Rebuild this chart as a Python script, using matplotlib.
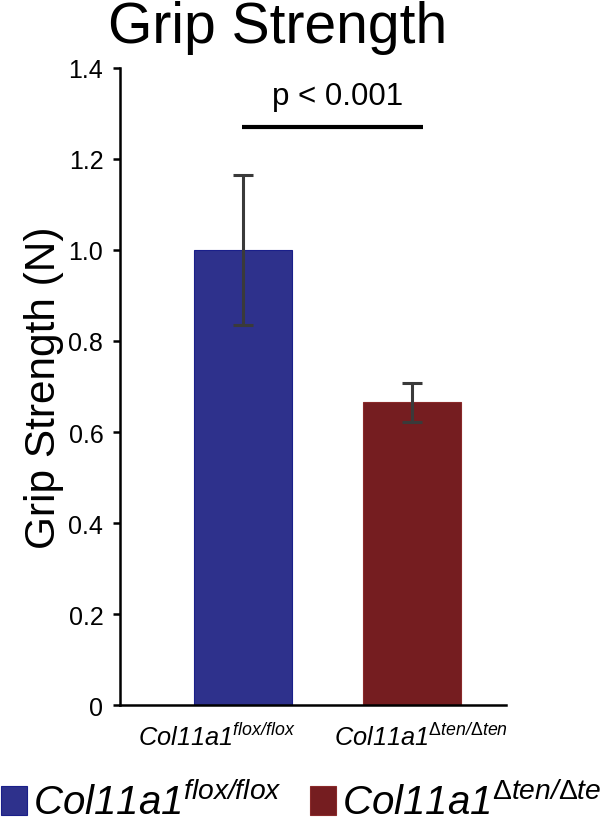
import matplotlib
matplotlib.use("Agg")
import matplotlib.pyplot as plt
from matplotlib.patches import Patch

plt.rcParams['font.family'] = ['Liberation Sans', 'DejaVu Sans']
plt.rcParams['mathtext.fontset'] = 'custom'
plt.rcParams['mathtext.it'] = 'Liberation Sans:italic'
plt.rcParams['mathtext.rm'] = 'Liberation Sans:italic'
plt.rcParams['mathtext.sf'] = 'Liberation Sans'

categories = [r'$Col11a1^{flox/flox}$', r'$Col11a1^{\mathsf{Δ}ten/\mathsf{Δ}ten}$']
means = [1.0, 0.665]
err_low = [0.165, 0.042]
err_high = [0.165, 0.042]
colors = ['#2E318C', '#751D20']
edge_colors = ['#1a1f8a', '#8a2a2a']
yticks = [0, 0.2, 0.4, 0.6, 0.8, 1.0, 1.2, 1.4]
ytick_labels = ['0', '0.2', '0.4', '0.6', '0.8', '1.0', '1.2', '1.4']
sig_text = 'p < 0.001'
sig_y = 1.27

fig = plt.figure(figsize=(6.0, 8.28), dpi=100)
ax = fig.add_axes([0.2, 0.1473, 0.643, 0.7694])

x = list(range(len(categories)))
ax.bar(x, means, width=0.58, color=colors, edgecolor=edge_colors, linewidth=0.8, zorder=2)
ax.errorbar(x, means, yerr=[err_low, err_high], fmt='none', ecolor='#3a3a3a',
            elinewidth=2.2, capsize=7, capthick=2.2, zorder=3)

ax.set_xlim(-0.728, 1.556)
ax.set_ylim(0, 1.4)
ax.set_yticks(yticks)
ax.set_yticklabels(ytick_labels, fontsize=18)
ax.set_xticks([x[0] - 0.154, x[1] + 0.053])
ax.set_xticklabels(categories, fontsize=18.3)
ax.tick_params(axis='x', length=0, pad=13)
ax.tick_params(axis='y', length=5, width=1.8, pad=7)

for s in ['top', 'right']:
    ax.spines[s].set_visible(False)
for s in ['left', 'bottom']:
    ax.spines[s].set_linewidth(1.8)

ax.set_ylabel('Grip Strength (N)', fontsize=30.5, labelpad=3)

# significance bar
ax.plot([-0.006, 1.065], [sig_y, sig_y], color='black', lw=3, solid_capstyle='butt', clip_on=False)
ax.text(0.56, sig_y + 0.035, sig_text, ha='center', va='bottom', fontsize=22.5)

fig.text(0.462, 1 - 28 / 828, 'Grip Strength', ha='center', va='center', fontsize=41)

handles = [Patch(facecolor=c, edgecolor=e, linewidth=0.8) for c, e in zip(colors, edge_colors)]
fig.legend(handles, categories, loc='lower left', bbox_to_anchor=(-0.025, -0.014), ncol=2,
           frameon=False, fontsize=29, handlelength=0.65, handleheight=0.75,
           handletextpad=0.15, columnspacing=0.7, borderaxespad=0.0)

fig.savefig('out.png', dpi=100)
